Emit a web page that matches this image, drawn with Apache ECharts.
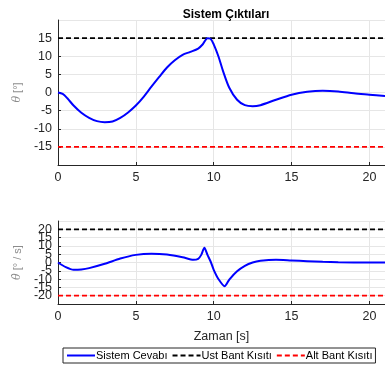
<!DOCTYPE html>
<html>
<head>
<meta charset="utf-8">
<script src="https://cdn.jsdelivr.net/npm/echarts@6/dist/echarts.min.js"></script>
<style>
  html, body { margin: 0; padding: 0; background: #fff; }
  #chart { width: 385px; height: 368px; }
</style>
</head>
<body>
<div id="chart"></div>
<script>
// zaman ekseni (s) ve okunan değerler
const thetaTime = [0, 0.3, 0.6, 1, 1.5, 2, 2.5, 3, 3.5, 4, 4.5, 5, 5.5, 6, 6.5, 7, 7.5, 8, 8.5, 9, 9.3, 9.6, 9.8, 10, 10.3, 10.6, 11, 11.5, 12, 12.5, 13, 14, 15, 16, 17, 18, 19, 20, 21];
const thetaValues = [0, -0.4, -1.6, -3.6, -5.6, -7.0, -7.9, -8.2, -8.0, -7.0, -5.5, -3.6, -1.2, 1.6, 4.3, 6.9, 8.9, 10.4, 11.2, 12.1, 13.3, 15.0, 14.8, 13.3, 10.0, 5.9, 1.3, -2.0, -3.5, -3.8, -3.5, -2.0, -0.6, 0.2, 0.5, 0.3, -0.2, -0.6, -1.0];

const rateTime = [0, 0.5, 1, 1.5, 2, 3, 4, 5, 6, 7, 8, 8.7, 9, 9.2, 9.4, 9.6, 9.8, 10, 10.3, 10.7, 11, 11.5, 12, 12.5, 13, 14, 15, 16, 17, 18, 20, 21];
const rateValues = [0, -2.8, -4.4, -4.2, -3.4, -0.8, 2.4, 4.6, 5.3, 4.8, 3.2, 1.6, 2.2, 4.6, 8.9, 4.6, 0.6, -4.4, -9.9, -14.3, -10.3, -5.3, -2.0, 0, 1.0, 1.6, 1.2, 0.8, 0.4, 0.2, 0, 0];

const timeRange = [0, 21];
const thetaBand = [15, -15];   // üst, alt
const rateBand = [20, -20];

const names = [`Sistem Cevabı`, `Ust Bant Kısıtı`, `Alt Bant Kısıtı`];

const zip = (xs, ys) => xs.map((x, i) => [x, ys[i]]);
const flat = (v) => timeRange.map(t => [t, v]);

const axisColor = `#262626`;
const gridColor = `#e6e6e6`;
const font = `"Liberation Sans", Arial, sans-serif`;

function xAxisOf(gridIndex, withName) {
  return {
    type: `value`,
    gridIndex: gridIndex,
    min: 0,
    max: 21,
    interval: 5,
    name: withName ? `Zaman [s]` : ``,
    nameLocation: `middle`,
    nameGap: 26,
    nameTextStyle: { color: axisColor, fontSize: 12.5, fontFamily: font },
    axisLine: { show: true, onZero: false, lineStyle: { color: axisColor, width: 1 } },
    axisTick: { show: true, inside: true, length: 3, lineStyle: { color: axisColor } },
    axisLabel: { color: axisColor, fontSize: 12.5, fontFamily: font, margin: 6, showMaxLabel: false },
    splitLine: { show: true, lineStyle: { color: gridColor, width: 1 } }
  };
}

function yAxisOf(gridIndex, min, max, nameRich) {
  return {
    type: `value`,
    gridIndex: gridIndex,
    min: min,
    max: max,
    interval: 5,
    name: nameRich,
    nameLocation: `middle`,
    nameRotate: 90,
    nameGap: 29,
    nameTextStyle: { color: `#8c8c8c`, fontSize: 11, fontFamily: font,
      rich: { it: { fontStyle: `italic`, color: `#8c8c8c`, fontSize: 11, fontFamily: `"DejaVu Serif", serif` } } },
    axisLine: { show: true, lineStyle: { color: axisColor, width: 1 } },
    axisTick: { show: true, inside: true, length: 3, lineStyle: { color: axisColor } },
    axisLabel: { color: axisColor, fontSize: 12.5, fontFamily: font, margin: 6,
      showMinLabel: false, showMaxLabel: false, hideOverlap: false },
    splitLine: { show: true, lineStyle: { color: gridColor, width: 1 } }
  };
}

const dashStyle = { type: [5, 3], width: 1.7 };

const chart = echarts.init(document.getElementById(`chart`), null, { renderer: `canvas` });
const option = {
  animation: false,
  backgroundColor: `#ffffff`,
  title: {
    text: `Sistem Çıktıları`,
    left: 221,
    textAlign: `center`,
    top: 4,
    textStyle: { fontSize: 12, fontWeight: `bold`, color: `#000`, fontFamily: font }
  },
  legend: {
    data: names,
    left: 63,
    top: 348,
    width: 340,
    padding: [2, 3, 2, 3],
    itemGap: 4,
    itemWidth: 28,
    itemHeight: 10,
    borderColor: `#262626`,
    borderWidth: 1,
    itemStyle: { opacity: 0 },
    textStyle: { fontSize: 11, color: `#000`, fontFamily: font, padding: [0, 0, 0, -4] }
  },
  grid: [
    { left: 58, top: 20, right: -1, height: 145 },
    { left: 58, top: 221, right: -1, height: 83 }
  ],
  xAxis: [xAxisOf(0, false), xAxisOf(1, true)],
  yAxis: [
    yAxisOf(0, -20, 20, `{it|θ} [°]`),
    yAxisOf(1, -25, 25, `{it|θ̇} [° / s]`)
  ],
  series: [
    {
      name: names[0], type: `line`, xAxisIndex: 0, yAxisIndex: 0,
      data: zip(thetaTime, thetaValues), smooth: 0.3, symbol: `none`,
      lineStyle: { color: `#0000ff`, width: 2 }, itemStyle: { color: `#0000ff` }, z: 5
    },
    {
      name: names[1], type: `line`, xAxisIndex: 0, yAxisIndex: 0,
      data: flat(thetaBand[0]), symbol: `none`,
      lineStyle: Object.assign({ color: `#000000` }, dashStyle), itemStyle: { color: `#000000` }
    },
    {
      name: names[2], type: `line`, xAxisIndex: 0, yAxisIndex: 0,
      data: flat(thetaBand[1]), symbol: `none`,
      lineStyle: Object.assign({ color: `#ff0000` }, dashStyle), itemStyle: { color: `#ff0000` }
    },
    {
      name: names[0], type: `line`, xAxisIndex: 1, yAxisIndex: 1,
      data: zip(rateTime, rateValues), smooth: 0.25, symbol: `none`,
      lineStyle: { color: `#0000ff`, width: 2 }, itemStyle: { color: `#0000ff` }, z: 5
    },
    {
      name: names[1], type: `line`, xAxisIndex: 1, yAxisIndex: 1,
      data: flat(rateBand[0]), symbol: `none`,
      lineStyle: Object.assign({ color: `#000000` }, dashStyle), itemStyle: { color: `#000000` }
    },
    {
      name: names[2], type: `line`, xAxisIndex: 1, yAxisIndex: 1,
      data: flat(rateBand[1]), symbol: `none`,
      lineStyle: Object.assign({ color: `#ff0000` }, dashStyle), itemStyle: { color: `#ff0000` }
    }
  ]
};
chart.setOption(option);
</script>
</body>
</html>
